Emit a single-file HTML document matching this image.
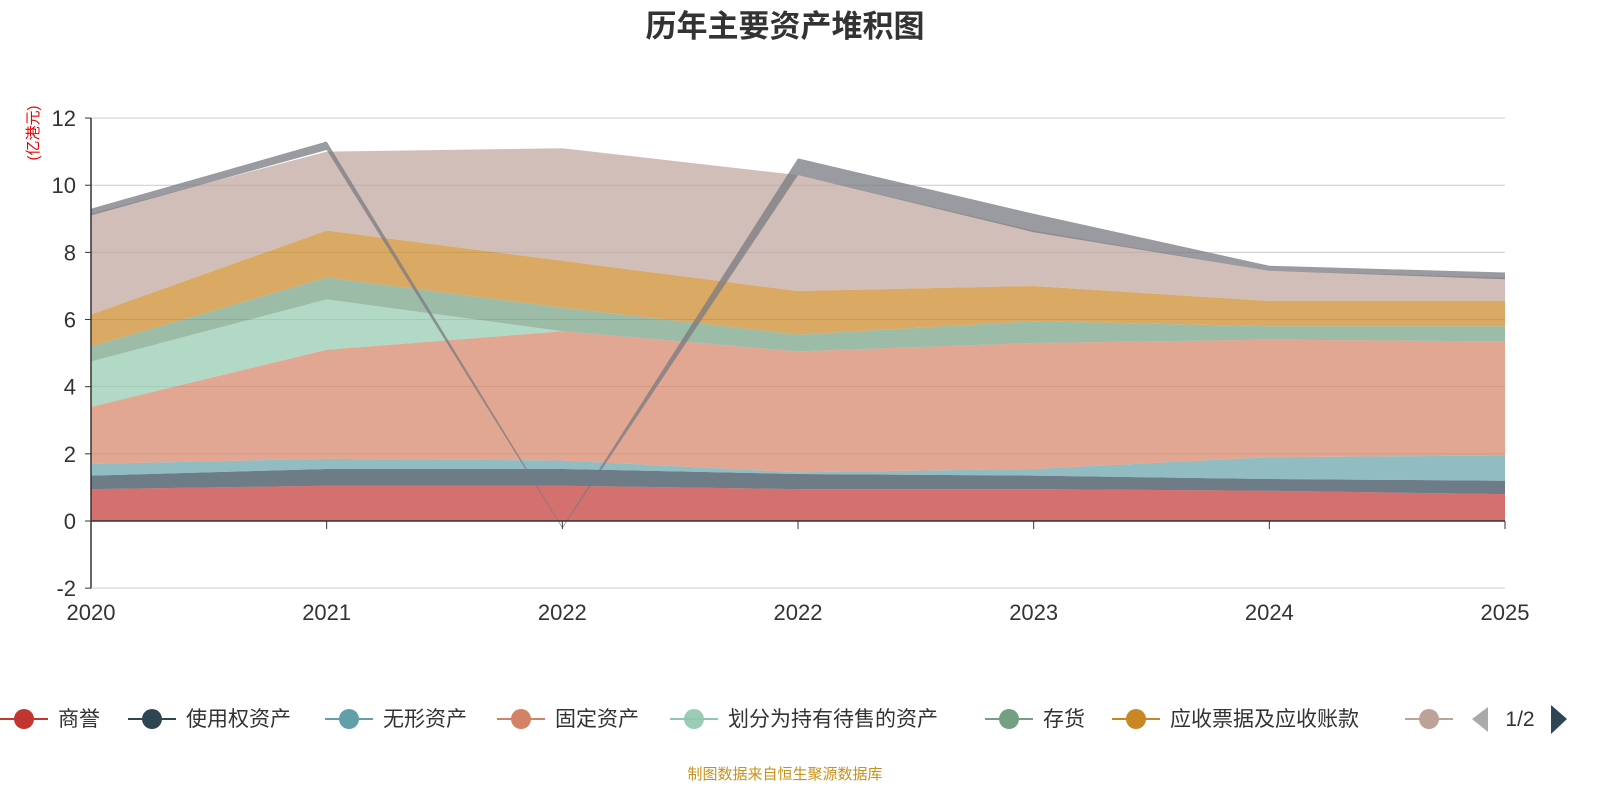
<!DOCTYPE html>
<html><head><meta charset="utf-8">
<style>
body{margin:0;background:#fff;width:1600px;height:800px;overflow:hidden;font-family:"Liberation Sans","Noto Sans CJK SC",sans-serif;}
</style></head>
<body>
<svg id="chart" width="1600" height="800" xmlns="http://www.w3.org/2000/svg" font-family="Liberation Sans, Noto Sans CJK SC, sans-serif">
<text x="785" y="37" text-anchor="middle" font-size="31" font-weight="bold" fill="#333">历年主要资产堆积图</text>
<text transform="translate(38,133) rotate(-90)" text-anchor="middle" font-size="15" fill="#e00">(亿港元)</text>
<g id="grid"></g><g id="areas"></g><g id="axes"></g><g id="legend"></g>
<text x="785" y="779" text-anchor="middle" font-size="15" fill="#c8901a">制图数据来自恒生聚源数据库</text>
</svg>
<script>
const categories=["2020","2021","2022","2022","2023","2024","2025"];
const yTicks=[-2,0,2,4,6,8,10,12];
const seriesNames=["商誉","使用权资产","无形资产","固定资产","划分为持有待售的资产","存货","应收票据及应收账款","其他"];
const s0=[0.95,1.05,1.05,0.95,0.95,0.9,0.8];
const s1=[0.4,0.5,0.5,0.45,0.4,0.35,0.4];
const s2=[0.35,0.3,0.25,0.05,0.2,0.65,0.75];
const s3=[1.7,3.25,3.85,3.6,3.75,3.5,3.4];
const s4=[1.35,1.5,0,0,0,0,0];
const s5=[0.45,0.65,0.7,0.5,0.65,0.4,0.45];
const s6=[0.95,1.4,1.4,1.3,1.05,0.75,0.75];
const s7=[3.0,2.35,3.35,3.45,1.65,0.9,0.7];
const grayTop=[9.3,11.3,-0.18,10.8,9.15,7.6,7.4];
const grayBottom=[9.1,11.05,-0.22,10.3,8.6,7.45,7.2];
const colors=["#c23531","#2f4554","#61a0a8","#d48265","#91c7ae","#749f83","#ca8622","#bda29a"];
const fills=["rgba(194,53,49,0.7)","rgba(47,69,84,0.7)","rgba(97,160,168,0.7)","rgba(212,130,101,0.7)","rgba(145,199,174,0.7)","rgba(116,159,131,0.7)","rgba(202,134,34,0.7)","rgba(189,162,154,0.7)"];
const X0=91,X1=1505,Y0=521,PX=33.58;
const xs=i=>X0+i*(X1-X0)/(categories.length-1);
const ys=v=>Y0-v*PX;
const NS="http://www.w3.org/2000/svg";
function mk(tag,attrs,parent){const e=document.createElementNS(NS,tag);for(const k in attrs)e.setAttribute(k,attrs[k]);parent.appendChild(e);return e;}
const grid=document.getElementById('grid'),areas=document.getElementById('areas'),axes=document.getElementById('axes'),legend=document.getElementById('legend');
yTicks.forEach(t=>{
 if(t!==0){const l=mk('line',{x1:X0,x2:X1,y1:ys(t),y2:ys(t),stroke:'#ccc','stroke-width':1},grid);
 
 }
 const tx=mk('text',{x:76,y:ys(t)+8,'text-anchor':'end','font-size':22,fill:'#333'},axes);tx.textContent=t;
 
 
 mk('line',{x1:X0-6,x2:X0,y1:ys(t),y2:ys(t),stroke:'#333'},axes);
});
const series=[s0,s1,s2,s3,s4,s5,s6,s7];
let base=categories.map(()=>0);
series.forEach((s,k)=>{
 const top=base.map((b,i)=>b+s[i]);
 let d='M'+top.map((v,i)=>xs(i)+','+ys(v)).join('L');
 for(let i=categories.length-1;i>=0;i--)d+='L'+xs(i)+','+ys(base[i]);
 const p=mk('path',{d:d+'Z',fill:fills[k]},areas);
 
 
 base=top;
});
let gd='M'+grayTop.map((v,i)=>xs(i)+','+ys(v)).join('L');
for(let i=categories.length-1;i>=0;i--)gd+='L'+xs(i)+','+ys(grayBottom[i]);
const g=mk('path',{d:gd+'Z',fill:'rgba(120,122,128,0.75)'},areas);


mk('line',{x1:X0,x2:X0,y1:ys(12),y2:ys(-2),stroke:'#333','stroke-width':1.5},axes);
mk('line',{x1:X0,x2:X1,y1:Y0,y2:Y0,stroke:'#333','stroke-width':1.5},axes);
categories.forEach((c,i)=>{
 mk('line',{x1:xs(i),x2:xs(i),y1:Y0,y2:Y0+8,stroke:'#333'},axes);
 const t=mk('text',{x:xs(i),y:620,'text-anchor':'middle','font-size':22,fill:'#333'},axes);t.textContent=c;
 
 
});
const lx=[0,128,325,497,670,985,1112,1405];
seriesNames.forEach((n,k)=>{
 const gr=mk('g',{},legend);
 
 
 const x=lx[k];
 mk('line',{x1:x,x2:x+48,y1:719,y2:719,stroke:colors[k],'stroke-width':2},gr);
 mk('circle',{cx:x+24,cy:719,r:10,fill:colors[k],opacity:k==4?0.9:1},gr);
 if(k<7){const t=mk('text',{x:x+58,y:726,'font-size':21,fill:'#333'},gr);t.textContent=n;}
});
const pl=mk('path',{d:'M1488,707L1472,719L1488,732Z',fill:'#aaa'},legend);


const pt=mk('text',{x:1520,y:726,'text-anchor':'middle','font-size':21,fill:'#333'},legend);pt.textContent='1/2';


const pn=mk('path',{d:'M1551,705L1567,719L1551,734Z',fill:'#2f4554'},legend);


</script>
</body></html>
